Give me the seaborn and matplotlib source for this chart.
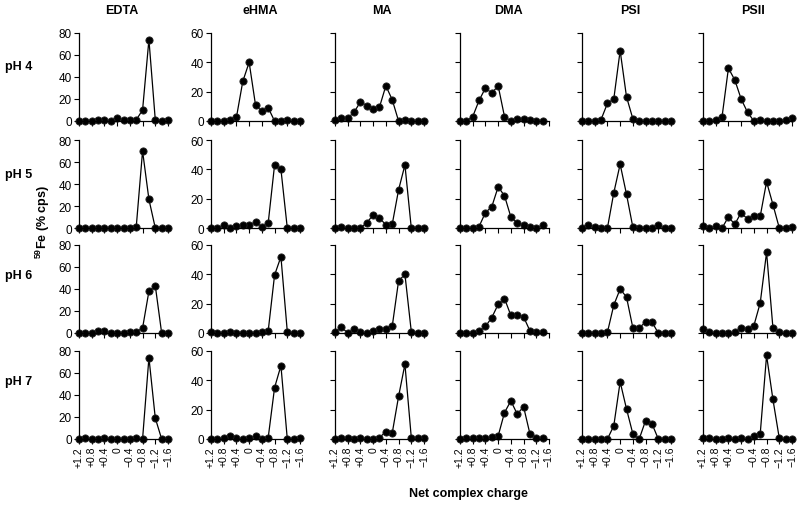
import matplotlib
matplotlib.use("Agg")
import matplotlib.pyplot as plt
import seaborn as sns
import pandas as pd

# ---------------- data ----------------
charges = [1.2, 1.0, 0.8, 0.6, 0.4, 0.2, 0.0, -0.2, -0.4, -0.6, -0.8, -1.0, -1.2, -1.4, -1.6]
ligands = ["EDTA", "eHMA", "MA", "DMA", "PSI", "PSII"]
ph_labels = ["pH 4", "pH 5", "pH 6", "pH 7"]
xtick_vals = [1.2, 0.8, 0.4, 0.0, -0.4, -0.8, -1.2, -1.6]
xtick_labels = ["+1.2", "+0.8", "+0.4", "0", "\u22120.4", "\u22120.8", "\u22121.2", "\u22121.6"]

edta_ph4 = [0, 0, 0, 1, 0.5, 0, 2.5, 1, 1, 1, 10, 74, 1, 0, 1]
edta_ph5 = [0, 0, 0, 0, 0, 0.3, 0.3, 0.3, 0, 0.7, 70, 26, 0, 0, 0.3]
edta_ph6 = [0, 0, 0, 1.5, 2, 0, 0, 0, 0.5, 1, 4.5, 38, 43, 0, 0]
edta_ph7 = [0, 1, 0, 0, 0.5, 0, 0, 0, 0, 1, 0, 74, 19, 0, 0]

ehma_ph4 = [0, 0, 0, 1, 2.5, 27, 40, 11, 6.5, 9, 0, 0, 0.5, 0, 0]
ehma_ph5 = [0, 0, 2, 0, 1.5, 2, 2, 4, 1, 3.5, 43, 40, 0, 0, 0]
ehma_ph6 = [1, 0, 0, 0.5, 0, 0, 0, 0, 1, 1.5, 39.5, 52, 1, 0, 0]
ehma_ph7 = [0, 0, 0.5, 2, 0.5, 0, 1, 2, 0, 1, 35, 50, 0, 0, 1]

ma_ph4 = [0.5, 2, 2, 6, 13, 10.5, 8, 9.5, 24, 14.5, 0, 0.5, 0, 0, 0]
ma_ph5 = [0, 0.5, 0, 0, 0, 3.5, 9, 7, 2, 2.5, 26, 43, 0, 0, 0]
ma_ph6 = [1, 4, 0, 2.5, 0.5, 0, 1.5, 3, 3, 4.5, 35.5, 40, 1, 0, 0]
ma_ph7 = [0, 0.5, 0.5, 0, 1, 0, 0, 1, 5, 4, 29, 51, 1, 0.5, 0.5]

dma_ph4 = [0, 0, 3, 14, 22.5, 19, 24, 3, 0, 1.5, 1.5, 0.7, 0, 0]
dma_ph5 = [0, 0, 0, 1, 10.5, 14.5, 28, 22, 7.5, 3.5, 2, 0.5, 0, 2]
dma_ph6 = [0, 0, 0, 1.5, 4.5, 10.5, 19.5, 23.5, 12, 12.5, 11, 1.5, 0.5, 0.5]
dma_ph7 = [0, 1, 0.5, 0.5, 0.5, 1.5, 2, 18, 26, 17, 22, 3.5, 1, 0.5]

psi_ph4 = [0, 0, 0, 1, 12, 15, 48, 16.5, 1.5, 0, 0, 0, 0, 0, 0]
psi_ph5 = [0, 2, 0.5, 0, 0, 24, 43.5, 23, 0.5, 0, 0, 0, 2, 0, 0]
psi_ph6 = [0, 0, 0, 0, 0.5, 19, 30, 24.5, 3.5, 3.5, 7.5, 7.5, 0, 0, 0]
psi_ph7 = [0, 0, 0, 0, 0, 9, 39, 20.5, 3.5, 0, 12.5, 10.5, 0, 0, 0]

psii_ph4 = [0, 0, 1, 3, 36, 28, 15, 6, 0, 0.5, 0, 0, 0, 1, 2]
psii_ph5 = [1.5, 0, 1.5, 0, 7.5, 2.5, 10.5, 6, 8, 8, 31.5, 16, 0, 0, 1]
psii_ph6 = [3, 1, 0, 0, 0, 0.5, 3.5, 3, 5, 20.5, 55, 3.5, 0.5, 0, 0]
psii_ph7 = [0.5, 0.5, 0, 0, 0.5, 0, 0.5, 0, 2, 3.5, 57, 27, 0.5, 0, 0]

series = {
    "EDTA": [edta_ph4, edta_ph5, edta_ph6, edta_ph7],
    "eHMA": [ehma_ph4, ehma_ph5, ehma_ph6, ehma_ph7],
    "MA": [ma_ph4, ma_ph5, ma_ph6, ma_ph7],
    "DMA": [dma_ph4, dma_ph5, dma_ph6, dma_ph7],
    "PSI": [psi_ph4, psi_ph5, psi_ph6, psi_ph7],
    "PSII": [psii_ph4, psii_ph5, psii_ph6, psii_ph7],
}

# ---------------- style ----------------
sns.set_style("ticks")
plt.rcParams["font.family"] = ["Liberation Sans", "DejaVu Sans"]
plt.rcParams["mathtext.fontset"] = "custom"
plt.rcParams["mathtext.rm"] = "Liberation Sans"
plt.rcParams["mathtext.bf"] = "Liberation Sans:bold"
for key in ("text.color", "axes.labelcolor", "xtick.color", "ytick.color", "axes.edgecolor"):
    plt.rcParams[key] = "black"

FW, FH = 800, 506
fig = plt.figure(figsize=(FW / 100, FH / 100), dpi=100)

col_left = [79, 211, 335, 460, 582, 703]
row_bottom = [122, 229, 334, 440]
W, H = 89, 88

for r, ph in enumerate(ph_labels):
    for c, lig in enumerate(ligands):
        ax = fig.add_axes([col_left[c] / FW, 1 - row_bottom[r] / FH, W / FW, H / FH])
        vals = series[lig][r]
        df = pd.DataFrame({"charge": charges[:len(vals)], "fe": vals})
        sns.lineplot(data=df, x="charge", y="fe", ax=ax, color="black",
                     marker="o", markersize=5.2, markeredgecolor="#222222",
                     markeredgewidth=0.6, linewidth=0.9, clip_on=False,
                     estimator=None)
        ymax = 80 if lig == "EDTA" else 60
        ax.set_xlim(1.2, -1.6)
        ax.set_ylim(0, ymax)
        ax.set_yticks(list(range(0, ymax + 1, 20)))
        ax.set_xticks(xtick_vals)
        if r == 3:
            ax.set_xticklabels(xtick_labels, rotation=90, fontsize=7.5)
        else:
            ax.set_xticklabels([])
        if c >= 2:
            ax.set_yticklabels([])
        ax.set_xlabel("")
        ax.set_ylabel("")
        sns.despine(ax=ax)
        for s in ("left", "bottom"):
            ax.spines[s].set_linewidth(0.9)
            ax.spines[s].set_color("black")
        ax.tick_params(length=3.5, width=0.8, pad=1.5, color="black", labelcolor="black")
        ax.tick_params(axis="y", labelsize=8.5)
        ax.set_facecolor("none")

# column titles
title_x = [122, 260, 382, 508, 630, 753]
for lig, x in zip(ligands, title_x):
    fig.text(x / FW, 1 - 11 / FH, lig, ha="center", va="center",
             fontsize=9, fontweight="bold", color="black")

# row labels
row_y = [67, 175, 276, 382]
for ph, y in zip(ph_labels, row_y):
    fig.text(5 / FW, 1 - y / FH, ph, ha="left", va="center",
             fontsize=9, fontweight="bold", color="black")

fig.text(43 / FW, 1 - 222 / FH, r"$^{\mathbf{59}}$Fe (% cps)", rotation=90,
         ha="center", va="center", fontsize=9, fontweight="bold", color="black")
fig.text(468 / FW, 1 - 494 / FH, "Net complex charge", ha="center", va="center",
         fontsize=9, fontweight="bold", color="black")

fig.savefig("out.png", dpi=100)
